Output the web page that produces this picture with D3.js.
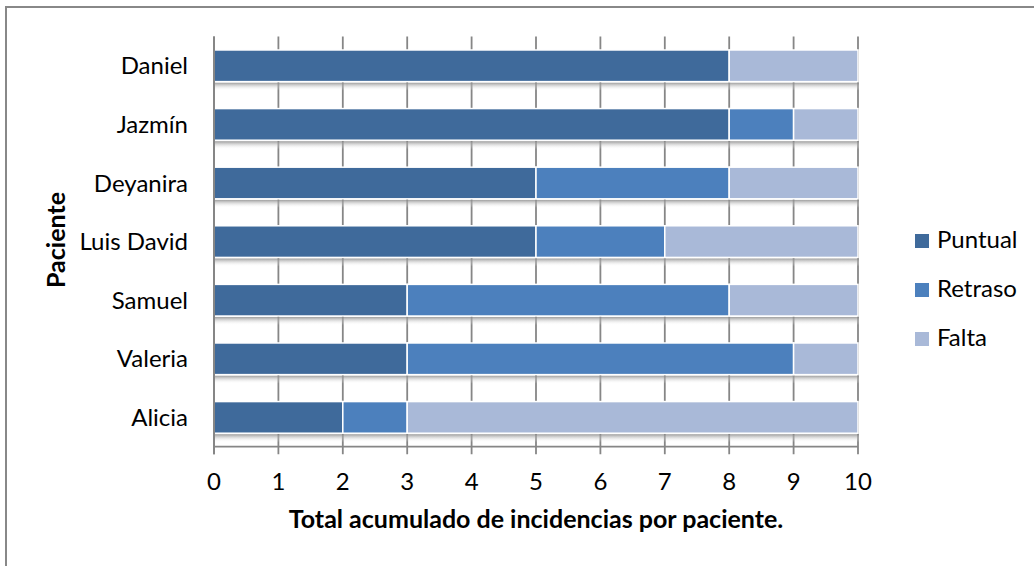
<!DOCTYPE html>
<html><head><meta charset="utf-8">
<script src="https://cdn.jsdelivr.net/npm/d3@7"></script>
<style>
html,body{margin:0;padding:0;background:#fff;}
svg{display:block;}
text{font-family:Lato,"Open Sans",sans-serif;fill:#000;}
</style></head>
<body>
<svg id="chart" width="1034" height="566"></svg>
<script>
const categories = ["Daniel","Jazmín","Deyanira","Luis David","Samuel","Valeria","Alicia"];
const seriesNames = ["Puntual","Retraso","Falta"];
const puntual = [8,8,5,5,3,3,2];
const retraso = [0,1,3,2,5,6,1];
const falta   = [2,1,2,3,2,1,7];
const xTicks = [0,1,2,3,4,5,6,7,8,9,10];
const colors = ["#3F6A9B","#4C80BD","#A9B9D8"];
const xTitle = "Total acumulado de incidencias por paciente.";
const yTitle = "Paciente";

const svg = d3.select("#chart");
const plot = {left:214, right:858, top:36.5, bottom:446.7};

// chart border
svg.append("rect").attr("x",6).attr("y",7).attr("width",1040).attr("height",600)
  .attr("fill","none").attr("stroke","#888").attr("stroke-width",2);

const x = d3.scaleLinear().domain([0,10]).range([plot.left, plot.right]);
const y = d3.scaleBand().domain(categories).range([plot.top, plot.bottom])
  .paddingInner(0.46).paddingOuter(0.23);

// gradient for shadow
const defs = svg.append("defs");
const grad = defs.append("linearGradient").attr("id","shadow").attr("x1",0).attr("y1",0).attr("x2",0).attr("y2",1);
grad.append("stop").attr("offset","0%").attr("stop-color","#8a8a8a").attr("stop-opacity",0.85);
grad.append("stop").attr("offset","100%").attr("stop-color","#ffffff").attr("stop-opacity",0);

// gridlines
svg.append("g").selectAll("line").data(xTicks).join("line")
  .attr("x1",d=>x(d)).attr("x2",d=>x(d))
  .attr("y1",plot.top).attr("y2",plot.bottom+7.5)
  .attr("stroke","#868686").attr("stroke-width",1.8);

// bottom axis line
svg.append("line").attr("x1",plot.left).attr("x2",plot.right)
  .attr("y1",plot.bottom).attr("y2",plot.bottom)
  .attr("stroke","#868686").attr("stroke-width",1.8);

// stacked data
const rows = categories.map((c,i)=>({cat:c, Puntual:puntual[i], Retraso:retraso[i], Falta:falta[i]}));
const stack = d3.stack().keys(seriesNames)(rows);

// shadows below bars
svg.append("g").selectAll("rect").data(rows).join("rect")
  .attr("x",x(0)).attr("width",d=>x(d.Puntual+d.Retraso+d.Falta)-x(0)+1)
  .attr("y",d=>y(d.cat)+y.bandwidth()+1).attr("height",8)
  .attr("fill","url(#shadow)");

stack.forEach((s,si)=>{
  svg.append("g").selectAll("rect").data(s.filter(d=>d[1]>d[0])).join("rect")
    .attr("x",d=>x(d[0])).attr("width",d=>x(d[1])-x(d[0]))
    .attr("y",d=>y(d.data.cat)).attr("height",y.bandwidth())
    .attr("fill",colors[si]).attr("stroke","#fff").attr("stroke-width",1.5);
});

// left axis line
svg.append("line").attr("x1",plot.left).attr("x2",plot.left)
  .attr("y1",plot.top).attr("y2",plot.bottom+7.5)
  .attr("stroke","#868686").attr("stroke-width",2);

// x tick labels
svg.append("g").selectAll("text").data(xTicks).join("text")
  .attr("x",d=>x(d)).attr("y",490).attr("text-anchor","middle")
  .attr("font-size",24).text(d=>d);

// y labels
svg.append("g").selectAll("text").data(categories).join("text")
  .attr("x",188).attr("y",d=>y(d)+y.bandwidth()/2+8.5).attr("text-anchor","end")
  .attr("font-size",24).text(d=>d);

// titles
svg.append("text").attr("x",(plot.left+plot.right)/2).attr("y",528).attr("text-anchor","middle")
  .attr("font-size",25).attr("font-weight","bold").text(xTitle);
svg.append("text").attr("transform","translate(65,240) rotate(-90)").attr("text-anchor","middle")
  .attr("font-size",25).attr("font-weight","bold").text(yTitle);

// legend
const leg = svg.append("g").selectAll("g").data(seriesNames).join("g")
  .attr("transform",(d,i)=>`translate(915,${234+i*49})`);
leg.append("rect").attr("width",14).attr("height",14).attr("fill",(d,i)=>colors[i]);
leg.append("text").attr("x",22).attr("y",14).attr("font-size",24).text(d=>d);
</script>
</body></html>
